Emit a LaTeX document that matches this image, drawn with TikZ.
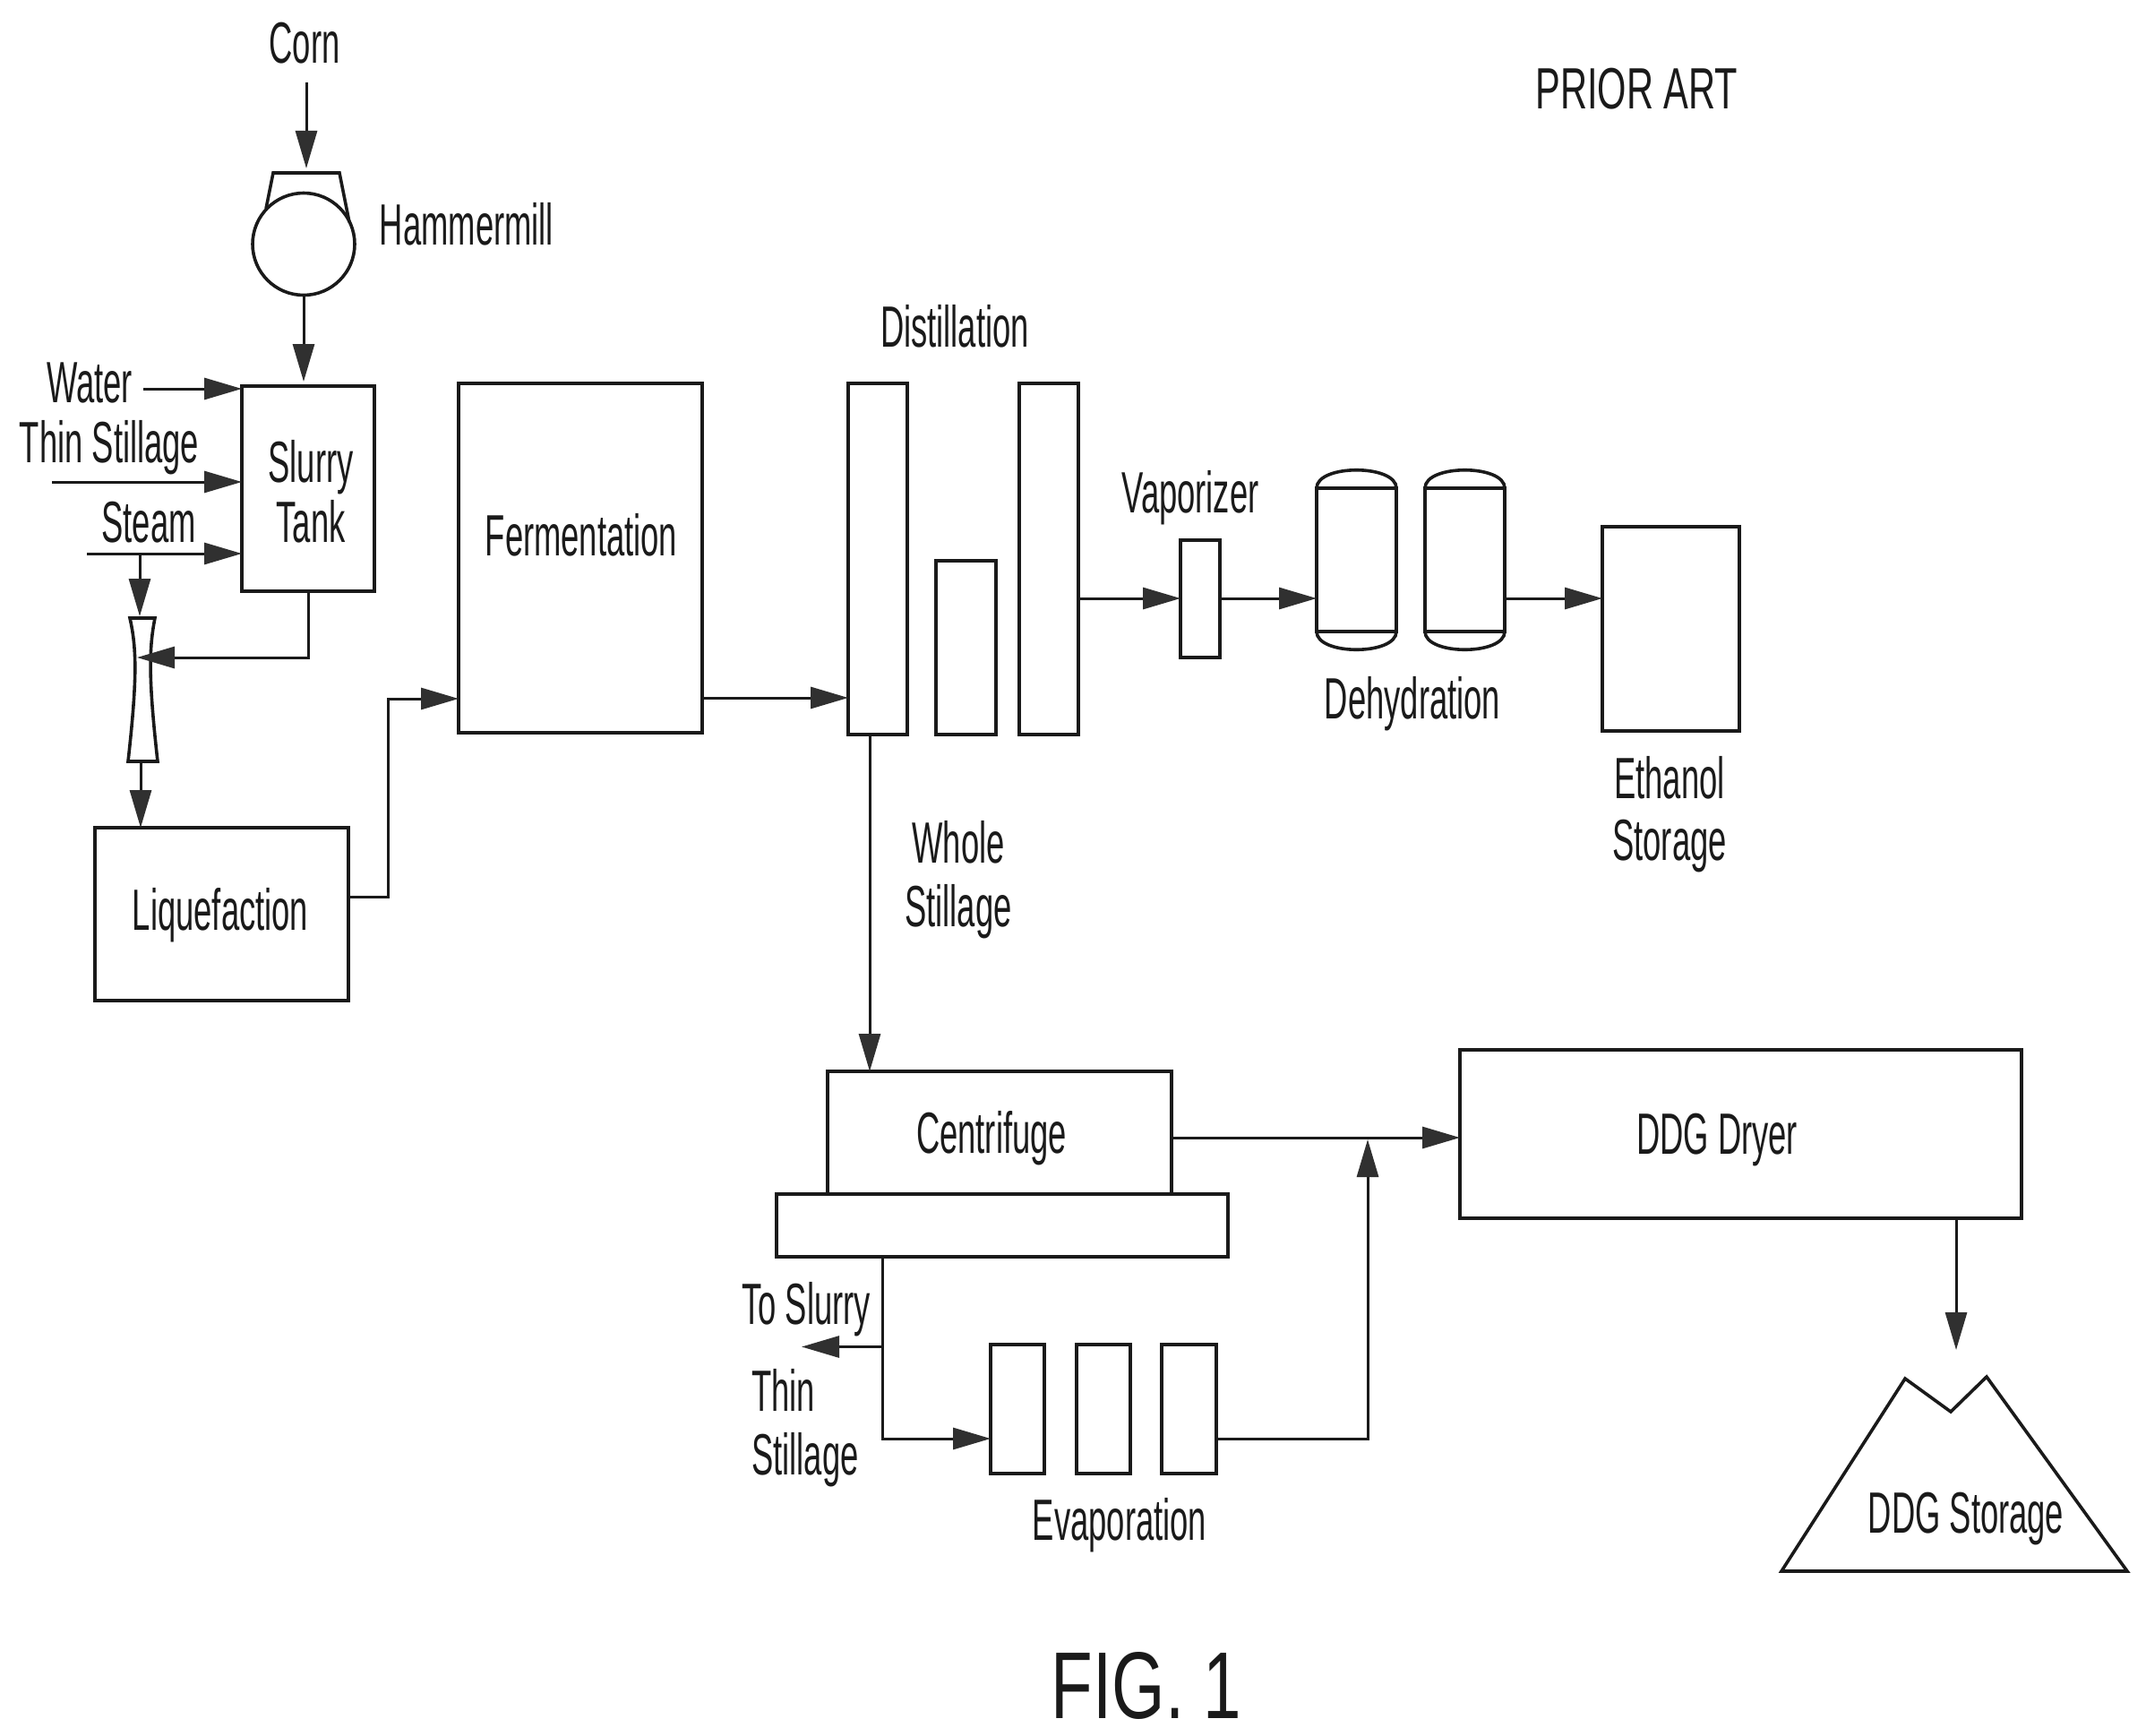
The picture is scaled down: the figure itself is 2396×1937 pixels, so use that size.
\documentclass[tikz,border=0pt]{standalone}
\usepackage{fontspec}
\setmainfont{Liberation Sans}
\newfontfamily\condfont[FakeStretch=0.56]{Liberation Sans}
\newfontfamily\priorfont[FakeStretch=0.64]{Liberation Sans}
\newfontfamily\figfont[FakeStretch=0.72]{Liberation Sans}
\usetikzlibrary{arrows.meta,calc}
\definecolor{ink}{HTML}{1A1A1A}
\definecolor{tipink}{HTML}{303030}
\tikzset{
  boxnode/.style={draw=ink,line width=1.8pt,fill=white,inner sep=0pt,outer sep=0pt},
  wh/.style 2 args={minimum width=#1*0.5pt,minimum height=#2*0.5pt},
  lbl/.style={anchor=base,inner sep=0pt,outer sep=0pt,text=ink,font=\condfont\fontsize{32.5}{35.5}\selectfont,align=center},
  conn/.style={draw=ink,line width=1.5pt,-{Triangle[length=21pt,width=12pt,color=tipink]}},
  plainline/.style={draw=ink,line width=1.8pt,line join=miter},
}
\begin{document}
\begin{tikzpicture}[x=0.5pt,y=-0.5pt]
\useasboundingbox (0,0) rectangle (2396,1937);
% free connector ends and ports
\coordinate (hoppertop) at (342,188);
\coordinate (wstart) at (160,434);
\coordinate (tstart) at (58,538);
\coordinate (sstart) at (97,618);
\coordinate (sjoin) at (156,618);
\coordinate (ventop) at (156,688);
\coordinate (venmid) at (153,734);
\coordinate (venbot) at (157,850);
\coordinate (liqout) at (389,1001);
\coordinate (fermin) at (433,780);
\coordinate (fermout) at (784,779);
\coordinate (vapy) at (1205,668);
\coordinate (wsx) at (971,820);
\coordinate (cy) at (1308,1270);
\coordinate (upx) at (1527,1272);
\coordinate (evapy) at (1358,1606);
\coordinate (tsx) at (985,1403);
\coordinate (slurryout) at (895,1503.5);
\coordinate (storetip) at (2184,1507);

% Hammermill
\node[boxnode,circle,wh={114}{114}] (mill) at (339,272.5) {};
\draw[plainline] (297,233) -- (305,193) -- (379,193) -- (390,248);
\node[lbl] (corn) at (340,71) {Corn};
\node[lbl] (hammer) at (521,273) {Hammermill};

% Slurry tank and inlets
\node[boxnode,wh={148}{229}] (tank) at (344,545.5) {};
\node[lbl,font=\condfont\fontsize{32.5}{33.5}\selectfont] (slurrytxt) at (347,605) {Slurry\\Tank};
\node[lbl] (water) at (100,449) {Water};
\node[lbl] (thin) at (122,516) {Thin Stillage};
\node[lbl] (steam) at (166,605) {Steam};

% Venturi
\draw[plainline,fill=white] (145,690) -- (173,690) .. controls (166,725) and (166,760) .. (176,850)
  -- (143,850) .. controls (153,760) and (153,725) .. (145,690) -- cycle;

% Liquefaction, Fermentation
\node[boxnode,wh={283}{193}] (liq) at (247.5,1020.5) {};
\node[lbl] (liqtxt) at (246,1038) {Liquefaction};
\node[boxnode,wh={272}{390}] (ferm) at (648,623) {};
\node[lbl] (fermtxt) at (649,620) {Fermentation};

% Distillation
\node[boxnode,wh={66}{392}] (col1) at (980,624) {};
\node[boxnode,wh={67}{194}] (col2) at (1078.5,723) {};
\node[boxnode,wh={66}{392}] (col3) at (1171,624) {};
\node[lbl] (disttxt) at (1066,387) {Distillation};

% Vaporizer
\node[boxnode,wh={44}{131}] (vap) at (1340,668.5) {};
\node[lbl] (vaptxt) at (1329,572) {Vaporizer};

% Dehydration vessels
\node[boxnode,wh={89}{160}] (dehy1) at (1514.5,625) {};
\node[boxnode,wh={89}{160}] (dehy2) at (1635.5,625) {};
\draw[plainline] (dehy1.north west) .. controls +(0,-27) and +(0,-27) .. (dehy1.north east);
\draw[plainline] (dehy1.south west) .. controls +(0,27) and +(0,27) .. (dehy1.south east);
\draw[plainline] (dehy2.north west) .. controls +(0,-27) and +(0,-27) .. (dehy2.north east);
\draw[plainline] (dehy2.south west) .. controls +(0,27) and +(0,27) .. (dehy2.south east);
\node[lbl] (dehytxt) at (1577,802) {Dehydration};

% Ethanol storage
\node[boxnode,wh={153}{228}] (eth) at (1865.5,702) {};
\node[lbl,font=\condfont\fontsize{32.5}{34.5}\selectfont] (ethtxt) at (1864,960) {Ethanol\\Storage};

% Centrifuge
\node[boxnode,wh={504}{70}] (tray) at (1119,1368) {};
\node[boxnode,wh={384}{137}] (cent) at (1116,1264.5) {};
\node[lbl] (centtxt) at (1107,1287) {Centrifuge};
\node[lbl] (wholetxt) at (1070,1034) {Whole\\Stillage};

% Evaporators
\node[boxnode,wh={60}{144}] (ev1) at (1136,1573) {};
\node[boxnode,wh={60}{144}] (ev2) at (1232,1573) {};
\node[boxnode,wh={61}{144}] (ev3) at (1327.5,1573) {};
\node[lbl] (evaptxt) at (1250,1719) {Evaporation};
\node[lbl] (toslurry) at (900,1478) {To Slurry};
\node[lbl,align=left] (thinst) at (899,1646) {Thin\\Stillage};

% DDG
\node[boxnode,wh={627}{188}] (dryer) at (1943.5,1266) {};
\node[lbl] (dryertxt) at (1917,1288) {DDG Dryer};
\draw[plainline] (1989,1754) -- (2127,1539) -- (2178,1576) -- (2218,1537) -- (2375,1754) -- cycle;
\node[lbl] (ddgtxt) at (2195,1711) {DDG Storage};

% Titles
\node[lbl,font=\priorfont\fontsize{32.5}{35.5}\selectfont] (prior) at (1827.5,122) {PRIOR ART};
\node[lbl,font=\figfont\fontsize{53}{53}\selectfont] (figtxt) at (1280,1918) {FIG. 1};

% Connectors
\draw[conn,shorten <=10pt] (corn.south -| hoppertop) -- (hoppertop);
\draw[conn,shorten >=2.5pt] (mill.south) -- (mill.south |- tank.north);
\draw[conn] (wstart) -- (tank.west |- wstart);
\draw[conn] (tstart) -- (tank.west |- tstart);
\draw[conn] (sstart) -- (tank.west |- sstart);
\draw[conn] (sjoin) -- (ventop);
\draw[conn] (tank.south) |- (venmid);
\draw[conn] (venbot) -- (liq.north -| venbot);
\draw[conn] (liqout) -| (fermin) -- (ferm.west |- fermin);
\draw[conn] (fermout) -- (col1.west |- fermout);
\draw[conn] (vapy) -- (vap.west |- vapy);
\draw[conn] (vap.east |- vapy) -- (dehy1.west |- vapy);
\draw[conn] (dehy2.east |- vapy) -- (eth.west |- vapy);
\draw[conn] (wsx) -- (cent.north -| wsx);
\draw[conn] (cy) -- (dryer.west |- cy);
\draw[conn] (evapy) -| (upx);
\draw[conn] (tsx) |- (ev1.west |- evapy);
\draw[conn] (tsx |- slurryout) -- (slurryout);
\draw[conn] (storetip |- dryer.south) -- (storetip);
\end{tikzpicture}
\end{document}
